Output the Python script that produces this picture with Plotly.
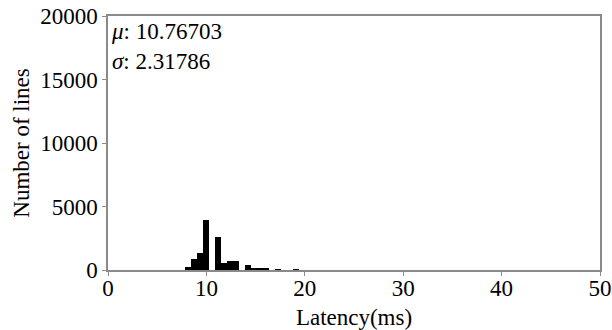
import plotly.graph_objects as go

bin_start = 7.83
bin_width = 0.607
counts = [200, 900, 1350, 3950, 0, 2600, 530, 710, 700, 0, 390, 130, 130, 80, 0, 60, 0, 0, 60]
centers = [bin_start + bin_width * (i + 0.5) for i in range(len(counts))]

mu = "10.76703"
sigma = "2.31786"
x_ticks = [0, 10, 20, 30, 40, 50]
y_ticks = [0, 5000, 10000, 15000, 20000]

fig = go.Figure()
fig.add_trace(go.Bar(x=centers, y=counts, width=bin_width, marker=dict(color="black", line=dict(width=0)),
                     showlegend=False))

font = "Liberation Serif, Times New Roman, serif"
axis_common = dict(showline=True, linecolor="#8a8a8a", linewidth=1.5, mirror=True,
                   ticks="outside", ticklen=4, tickcolor="#8a8a8a", showgrid=False, zeroline=False,
                   automargin=False, tickformat="d",
                   tickfont=dict(family=font, size=23, color="black"))
fig.update_layout(
    width=612, height=330,
    margin=dict(l=108, r=12, t=16, b=60, autoexpand=False),
    plot_bgcolor="white", paper_bgcolor="white",
    bargap=0,
    xaxis=dict(range=[0, 50], tickvals=x_ticks, ticklabelstandoff=-7,
               title=dict(text="Latency(ms)", font=dict(family=font, size=23, color="black"), standoff=12), **axis_common),
    yaxis=dict(range=[0, 20000], tickvals=y_ticks,
               title=dict(text="Number of lines", font=dict(family=font, size=23, color="black"), standoff=4), **axis_common),
    annotations=[dict(x=0, y=1, xref="paper", yref="paper", xanchor="left", yanchor="top", xshift=1, yshift=-1,
                      showarrow=False, align="left",
                      text=f"<i>μ</i>: {mu}<br><i>σ</i>: {sigma}",
                      font=dict(family=font, size=23, color="black"))],
)
fig.write_html("out.html", config={"displayModeBar": False},
               post_script="document.body.style.margin='0';document.body.style.overflow='hidden';")
